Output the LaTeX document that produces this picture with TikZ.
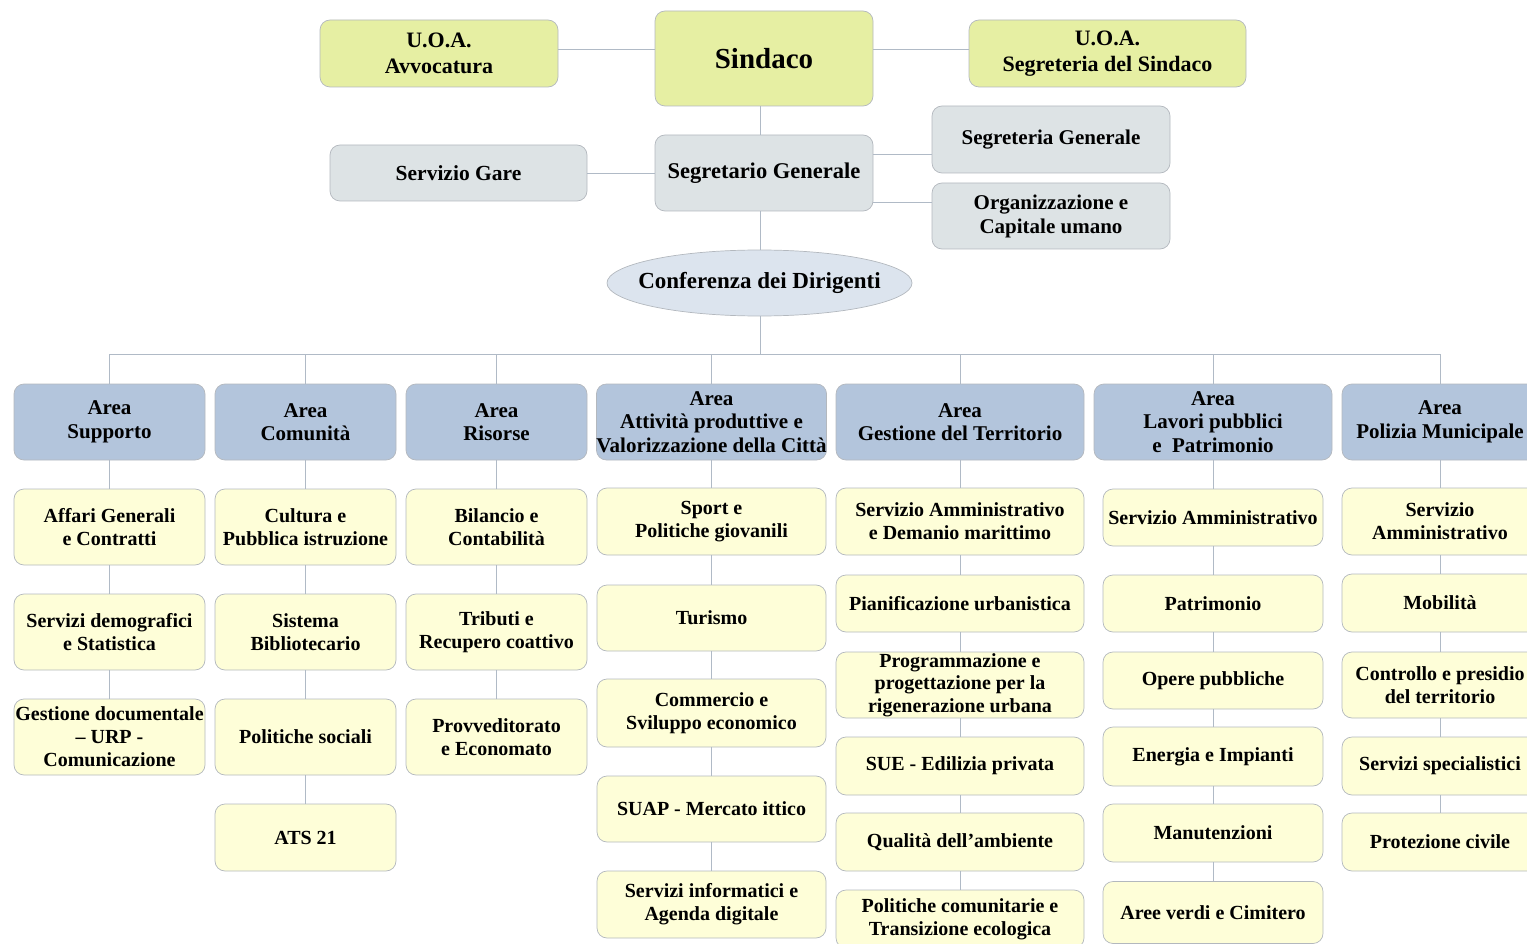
\documentclass[tikz,border=0pt]{standalone}
\usepackage{fontspec}
\setmainfont{Liberation Serif}
\usetikzlibrary{shapes.geometric}
\definecolor{ygreen}{HTML}{E6EFA3}
\definecolor{greyb}{HTML}{DDE3E5}
\definecolor{ellipc}{HTML}{DCE4EE}
\definecolor{areab}{HTML}{B3C5DC}
\definecolor{childy}{HTML}{FEFED8}
\definecolor{bordc}{HTML}{B3B8BE}
\definecolor{linec}{HTML}{B0BAC6}
\tikzset{
  basebox/.style={draw=bordc, line width=0.7pt, rounded corners=10pt, align=center, inner sep=0pt, font=\bfseries\fontsize{20}{23}\selectfont},
  topbox/.style={basebox, fill=ygreen, font=\bfseries\fontsize{22}{26}\selectfont},
  greybox/.style={basebox, fill=greyb, font=\bfseries\fontsize{21.5}{24}\selectfont},
  areabox/.style={basebox, fill=areab, minimum height=76pt, font=\bfseries\fontsize{21}{23.5}\selectfont},
  childbox/.style={basebox, fill=childy},
  conn/.style={draw=linec, line width=0.8pt},
}
\begin{document}
\begin{tikzpicture}[x=1pt,y=-1pt]
\useasboundingbox (0,0) rectangle (1527,944);
\coordinate (spine) at (760,0);
\coordinate (bus) at (0,354);
% top
\node[topbox, minimum width=238pt, minimum height=67pt] (avv) at (439,53.5) {U.O.A.\\Avvocatura};
\node[topbox, minimum width=218pt, minimum height=95pt, font=\bfseries\fontsize{29}{32}\selectfont] (sind) at (764,58.5) {Sindaco};
\node[topbox, minimum width=277pt, minimum height=67pt] (segs) at (1107.5,53.5) {U.O.A.\\Segreteria del Sindaco};
% second level
\node[greybox, minimum width=257pt, minimum height=56pt] (gare) at (458.5,173) {Servizio Gare};
\node[greybox, minimum width=218pt, minimum height=76pt, font=\bfseries\fontsize{22.5}{25}\selectfont] (segr) at (764,173) {Segretario Generale};
\node[greybox, minimum width=238pt, minimum height=67pt, font=\bfseries\fontsize{21}{24}\selectfont] (sgen) at (1051,139.5) {Segreteria Generale};
\node[greybox, minimum width=238pt, minimum height=66pt, font=\bfseries\fontsize{21}{24}\selectfont] (org) at (1051,216) {Organizzazione e\\Capitale umano};
\node[ellipse, draw=bordc, line width=0.7pt, fill=ellipc, minimum width=305pt, minimum height=66pt, inner sep=0pt] (conf) at (759.5,283) {};
\node[inner sep=0pt, font=\bfseries\fontsize{23}{26}\selectfont] (conftext) at (conf.center) {Conferenza dei Dirigenti};
% areas
\node[areabox, minimum width=191pt] (a1) at (109.5,422) {Area\\Supporto};
\node[areabox, minimum width=181pt] (a2) at (305.5,422) {Area\\Comunità};
\node[areabox, minimum width=181pt] (a3) at (496.5,422) {Area\\Risorse};
\node[areabox, minimum width=229pt] (a4) at (711.5,422) {Area\\Attività produttive e\\Valorizzazione della Città};
\node[areabox, minimum width=248pt] (a5) at (960,422) {Area\\Gestione del Territorio};
\node[areabox, minimum width=238pt] (a6) at (1213,422) {Area\\Lavori pubblici\\e\ \ Patrimonio};
\node[areabox, minimum width=196pt] (a7) at (1440,422) {Area\\Polizia Municipale};
% column 1
\node[childbox, minimum width=191pt, minimum height=76pt] (c11) at (109.5,527) {Affari Generali\\e Contratti};
\node[childbox, minimum width=191pt, minimum height=76pt] (c12) at (109.5,632) {Servizi demografici\\e Statistica};
\node[childbox, minimum width=191pt, minimum height=76pt] (c13) at (109.5,737) {Gestione documentale\\– URP -\\Comunicazione};
% column 2
\node[childbox, minimum width=181pt, minimum height=76pt] (c21) at (305.5,527) {Cultura e\\Pubblica istruzione};
\node[childbox, minimum width=181pt, minimum height=76pt] (c22) at (305.5,632) {Sistema\\Bibliotecario};
\node[childbox, minimum width=181pt, minimum height=76pt] (c23) at (305.5,737) {Politiche sociali};
\node[childbox, minimum width=181pt, minimum height=67pt] (c24) at (305.5,837.5) {ATS 21};
% column 3
\node[childbox, minimum width=181pt, minimum height=76pt] (c31) at (496.5,527) {Bilancio e\\Contabilità};
\node[childbox, minimum width=181pt, minimum height=76pt] (c32) at (496.5,632) {Tributi e\\Recupero coattivo};
\node[childbox, minimum width=181pt, minimum height=76pt] (c33) at (496.5,737) {Provveditorato\\e Economato};
% column 4
\node[childbox, minimum width=229pt, minimum height=67pt] (c41) at (711.5,521.5) {Sport e\\Politiche giovanili};
\node[childbox, minimum width=229pt, minimum height=66pt] (c42) at (711.5,618) {Turismo};
\node[childbox, minimum width=229pt, minimum height=68pt] (c43) at (711.5,713) {Commercio e\\Sviluppo economico};
\node[childbox, minimum width=229pt, minimum height=66pt] (c44) at (711.5,809) {SUAP - Mercato ittico};
\node[childbox, minimum width=229pt, minimum height=67pt] (c45) at (711.5,904.5) {Servizi informatici e\\Agenda digitale};
% column 5
\node[childbox, minimum width=248pt, minimum height=67pt] (c51) at (960,521.5) {Servizio Amministrativo\\e Demanio marittimo};
\node[childbox, minimum width=248pt, minimum height=57pt] (c52) at (960,603.5) {Pianificazione urbanistica};
\node[childbox, minimum width=248pt, minimum height=66pt, font=\bfseries\fontsize{20}{22.5}\selectfont] (c53) at (960,685) {Programmazione e\\progettazione per la\\rigenerazione urbana};
\node[childbox, minimum width=248pt, minimum height=58pt] (c54) at (960,766) {SUE - Edilizia privata};
\node[childbox, minimum width=248pt, minimum height=58pt] (c55) at (960,842) {Qualità dell’ambiente};
\node[childbox, minimum width=248pt, minimum height=58pt] (c56) at (960,919) {Politiche comunitarie e\\Transizione ecologica};
% column 6
\node[childbox, minimum width=220pt, minimum height=57pt] (c61) at (1213,517.5) {Servizio Amministrativo};
\node[childbox, minimum width=220pt, minimum height=57pt] (c62) at (1213,603.5) {Patrimonio};
\node[childbox, minimum width=220pt, minimum height=57pt] (c63) at (1213,680.5) {Opere pubbliche};
\node[childbox, minimum width=220pt, minimum height=59pt] (c64) at (1213,756.5) {Energia e Impianti};
\node[childbox, minimum width=220pt, minimum height=58pt] (c65) at (1213,833) {Manutenzioni};
\node[childbox, minimum width=220pt, minimum height=62pt] (c66) at (1213,912.5) {Aree verdi e Cimitero};
% column 7
\node[childbox, minimum width=196pt, minimum height=67pt] (c71) at (1440,521.5) {Servizio\\Amministrativo};
\node[childbox, minimum width=196pt, minimum height=58pt] (c72) at (1440,603) {Mobilità};
\node[childbox, minimum width=196pt, minimum height=66pt] (c73) at (1440,685) {Controllo e presidio\\del territorio};
\node[childbox, minimum width=196pt, minimum height=58pt] (c74) at (1440,766) {Servizi specialistici};
\node[childbox, minimum width=196pt, minimum height=58pt] (c75) at (1440,842) {Protezione civile};
% connectors
\draw[conn] ([yshift=4.5pt]avv.east) -- ([yshift=4.5pt]avv.east -| sind.west);
\draw[conn] ([yshift=4.5pt]segs.west) -- ([yshift=4.5pt]segs.west -| sind.east);
\draw[conn] (sind.south -| spine) -- (segr.north -| spine);
\draw[conn] (gare.east) -- (segr.west);
\draw[conn] ([yshift=19pt]segr.east) -- ([yshift=19pt]segr.east -| sgen.west);
\draw[conn] ([yshift=-29pt]segr.east) -- ([yshift=-29pt]segr.east -| org.west);
\draw[conn] (segr.south -| spine) -- (conf.north -| spine);
\draw[conn] (conf.south -| spine) -- (bus -| spine);
\draw[conn] (bus -| a1.north) -- (bus -| a7.north);
\foreach \a in {a1,a2,a3,a4,a5,a6,a7}{
  \draw[conn] (bus -| \a.north) -- (\a.north);
}
\draw[conn] (a1.south) -- (c11.north);
\draw[conn] (c11.south) -- (c12.north);
\draw[conn] (c12.south) -- (c13.north);
\draw[conn] (a2.south) -- (c21.north);
\draw[conn] (c21.south) -- (c22.north);
\draw[conn] (c22.south) -- (c23.north);
\draw[conn] (c23.south) -- (c24.north);
\draw[conn] (a3.south) -- (c31.north);
\draw[conn] (c31.south) -- (c32.north);
\draw[conn] (c32.south) -- (c33.north);
\draw[conn] (a4.south) -- (c41.north);
\draw[conn] (c41.south) -- (c42.north);
\draw[conn] (c42.south) -- (c43.north);
\draw[conn] (c43.south) -- (c44.north);
\draw[conn] (c44.south) -- (c45.north);
\draw[conn] (a5.south) -- (c51.north);
\draw[conn] (c51.south) -- (c52.north);
\draw[conn] (c52.south) -- (c53.north);
\draw[conn] (c53.south) -- (c54.north);
\draw[conn] (c54.south) -- (c55.north);
\draw[conn] (c55.south) -- (c56.north);
\draw[conn] (a6.south) -- (c61.north);
\draw[conn] (c61.south) -- (c62.north);
\draw[conn] (c62.south) -- (c63.north);
\draw[conn] (c63.south) -- (c64.north);
\draw[conn] (c64.south) -- (c65.north);
\draw[conn] (c65.south) -- (c66.north);
\draw[conn] (a7.south) -- (c71.north);
\draw[conn] (c71.south) -- (c72.north);
\draw[conn] (c72.south) -- (c73.north);
\draw[conn] (c73.south) -- (c74.north);
\draw[conn] (c74.south) -- (c75.north);
\end{tikzpicture}
\end{document}
